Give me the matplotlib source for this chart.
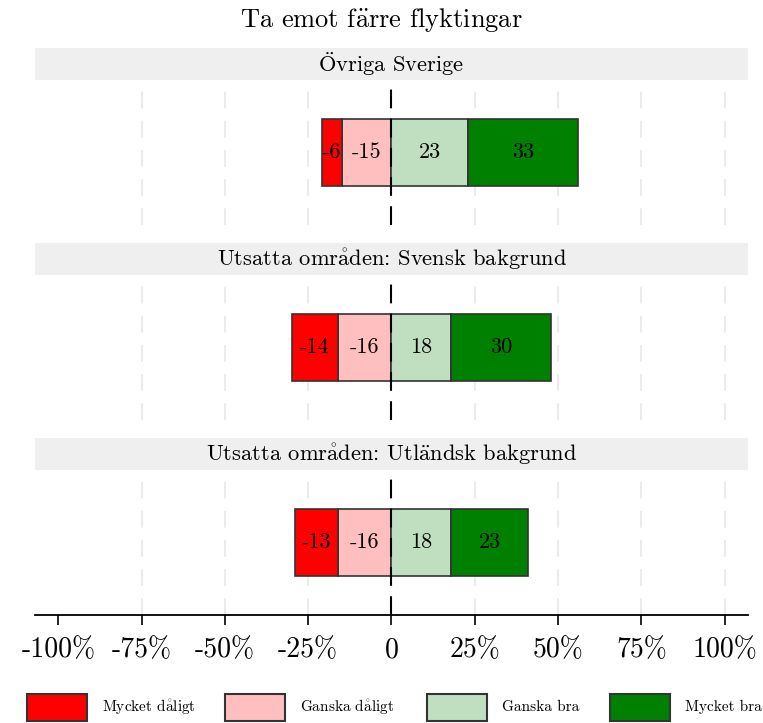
import matplotlib.pyplot as plt
from matplotlib.patches import Rectangle

plt.rcParams['font.family'] = ['cmr10', 'DejaVu Serif']
plt.rcParams['mathtext.fontset'] = 'cm'
plt.rcParams['axes.unicode_minus'] = False
plt.rcParams['axes.formatter.use_mathtext'] = False

title = "Ta emot färre flyktingar"
groups = ["Övriga Sverige", "Utsatta områden: Svensk bakgrund", "Utsatta områden: Utländsk bakgrund"]
answers = ["Mycket dåligt", "Ganska dåligt", "Ganska bra", "Mycket bra"]
colors = ["#ff0000", "#ffbfbf", "#c0dfc0", "#008000"]

# percent per answer, per group
mycket_daligt = [6, 14, 13]
ganska_daligt = [15, 16, 16]
ganska_bra = [23, 18, 18]
mycket_bra = [33, 30, 23]

ticks = [-100, -75, -50, -25, 0, 25, 50, 75, 100]
tick_labels = ["-100%", "-75%", "-50%", "-25%", "0", "25%", "50%", "75%", "100%"]

ACC = {"å": r"\mathring{a}", "ä": r"\ddot{a}", "ö": r"\ddot{o}",
       "Å": r"\mathring{A}", "Ä": r"\ddot{A}", "Ö": r"\ddot{O}"}


def cm(s):
    # cmr10 has no å/ä/ö, so words with them go through mathtext accents
    out = []
    for w in s.split(" "):
        if any(ch in ACC for ch in w):
            tail = ""
            if w.endswith(":"):
                w, tail = w[:-1], ":"
            w = "$\\mathrm{" + "".join(ACC.get(ch, ch) for ch in w) + "}$" + tail
        out.append(w)
    return " ".join(out)


W, H = 763, 723
fig = plt.figure(figsize=(W / 100, H / 100), dpi=100)

left, right = 35 / W, 748 / W
strip_tops = [48, 243, 438]
strip_h = 32
panel_h = 145

fig.text(0.5, 1 - 20 / H, cm(title), ha='center', va='center', fontsize=19)

for i, g in enumerate(groups):
    st = strip_tops[i]
    # strip
    sax = fig.add_axes([left, 1 - (st + strip_h) / H, right - left, strip_h / H])
    sax.set_facecolor("#efefef")
    sax.set_xticks([]); sax.set_yticks([])
    for s in sax.spines.values():
        s.set_visible(False)
    sax.text(0.5, 0.5, cm(g), ha='center', va='center', fontsize=16.2, transform=sax.transAxes)

    ax = fig.add_axes([left, 1 - (st + strip_h + panel_h) / H, right - left, panel_h / H])
    ax.set_xlim(-107, 107)
    ax.set_ylim(-0.5, 0.5)
    for t in ticks:
        if t == 0 or t == -100:
            continue
        ax.axvline(t, color="#ebebeb", lw=1.5, ls=(0, (8, 6)), zorder=0)

    ax.barh(0, -ganska_daligt[i], left=0, height=0.46, color=colors[1], edgecolor="#333333", lw=1.2, zorder=2)
    ax.barh(0, -mycket_daligt[i], left=-ganska_daligt[i], height=0.46, color=colors[0], edgecolor="#333333", lw=1.2, zorder=2)
    ax.barh(0, ganska_bra[i], left=0, height=0.46, color=colors[2], edgecolor="#333333", lw=1.2, zorder=2)
    ax.barh(0, mycket_bra[i], left=ganska_bra[i], height=0.46, color=colors[3], edgecolor="#333333", lw=1.2, zorder=2)

    fs = 16
    ax.text(-ganska_daligt[i] - mycket_daligt[i] / 2, 0, f"-{mycket_daligt[i]}", ha='center', va='center', fontsize=fs, zorder=4)
    ax.text(-ganska_daligt[i] / 2, 0, f"-{ganska_daligt[i]}", ha='center', va='center', fontsize=fs, zorder=4)
    ax.text(ganska_bra[i] / 2, 0, f"{ganska_bra[i]}", ha='center', va='center', fontsize=fs, zorder=4)
    ax.text(ganska_bra[i] + mycket_bra[i] / 2, 0, f"{mycket_bra[i]}", ha='center', va='center', fontsize=fs, zorder=4)

    ax.axvline(0, color="black", lw=1.5, ls=(0, (9, 5)), zorder=3)

    for s in ["top", "right", "left"]:
        ax.spines[s].set_visible(False)
    ax.set_yticks([])
    if i < 2:
        ax.spines["bottom"].set_visible(False)
        ax.set_xticks([])
    else:
        ax.spines["bottom"].set_linewidth(1.3)
        ax.set_xticks(ticks)
        ax.set_xticklabels(tick_labels, fontsize=20)
        ax.tick_params(axis='x', length=7, width=1.2, pad=9)

# legend keys along the bottom
key_x = [27, 225, 427, 610]
for x0, lab, c in zip(key_x, answers, colors):
    fig.patches.append(Rectangle((x0 / W, 1 - 721 / H), 60 / W, 27 / H, transform=fig.transFigure,
                                 facecolor=c, edgecolor="#333333", lw=1.5))
    fig.text((x0 + 75) / W, 1 - 707 / H, cm(lab), ha='left', va='center', fontsize=11)

fig.savefig("out.png", dpi=100)
